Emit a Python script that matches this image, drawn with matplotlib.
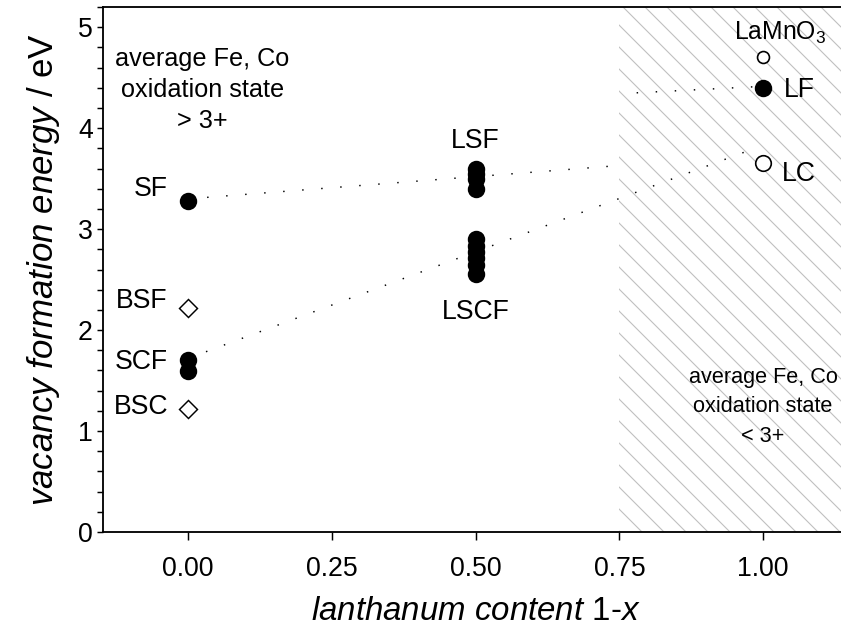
import matplotlib
matplotlib.use("Agg")
import matplotlib.pyplot as plt
from matplotlib.ticker import MultipleLocator
from matplotlib.patches import Rectangle

plt.rcParams['font.family'] = ['Liberation Sans', 'DejaVu Sans']
plt.rcParams['mathtext.fontset'] = 'custom'
plt.rcParams['mathtext.rm'] = 'Liberation Sans'
plt.rcParams['mathtext.it'] = 'Liberation Sans:italic'
plt.rcParams['hatch.linewidth'] = 0.6

# data
sf_x, sf_y = [0.0], [3.28]
scf_x, scf_y = [0.0, 0.0], [1.70, 1.59]
bsf_x, bsf_y = [0.0], [2.22]
bsc_x, bsc_y = [0.0], [1.22]
lsf_x, lsf_y = [0.5] * 4, [3.60, 3.55, 3.50, 3.40]
lscf_x, lscf_y = [0.5] * 6, [2.90, 2.83, 2.77, 2.71, 2.64, 2.56]
lf_x, lf_y = [1.0], [4.40]
lc_x, lc_y = [1.0], [3.65]
lamno_x, lamno_y = [1.0], [4.70]

# dotted guide lines
upper_x, upper_y = [0.0, 0.75], [3.30, 3.63]
lower_x, lower_y = [0.0, 0.99], [1.72, 3.81]
lfline_x, lfline_y = [0.78, 0.985], [4.35, 4.41]

hatch_start = 0.75
xticks = [0.0, 0.25, 0.5, 0.75, 1.0]
xticklabels = ['0.00', '0.25', '0.50', '0.75', '1.00']

DPI = 132
fig = plt.figure(figsize=(841 / DPI, 636 / DPI), dpi=DPI)
ax = fig.add_axes([103 / 841, 1 - 532 / 636, 1 - 103 / 841 + 0.01, (532 - 7) / 636])

ax.set_xlim(-0.148, 1.15)
ax.set_ylim(0, 5.2)

# hatched region (oxidation state < 3+)
ax.add_patch(Rectangle((hatch_start, 0), 1.0, 6, facecolor='none', edgecolor='#c0c0c0',
                       linewidth=0, hatch='\\\\', zorder=0))

dot = dict(color='black', lw=0.8, dashes=(1, 12))
ax.plot(upper_x, upper_y, **dot)
ax.plot(lower_x, lower_y, **dot)
ax.plot(lfline_x, lfline_y, **dot)

filled = dict(ls='none', marker='o', ms=8.5, mfc='black', mec='black', zorder=3)
ax.plot(sf_x, sf_y, **filled)
ax.plot(scf_x, scf_y, **filled)
ax.plot(lsf_x, lsf_y, **filled)
ax.plot(lscf_x, lscf_y, **filled)
ax.plot(lf_x, lf_y, **filled)
ax.plot(lc_x, lc_y, ls='none', marker='o', ms=8.5, mfc='white', mec='black', mew=0.9, zorder=3)
ax.plot(lamno_x, lamno_y, ls='none', marker='o', ms=6.5, mfc='white', mec='black', mew=0.9, zorder=3)
dia = dict(ls='none', marker='D', ms=6.8, mfc='white', mec='black', mew=0.8, zorder=3)
ax.plot(bsf_x, bsf_y, **dia)
ax.plot(bsc_x, bsc_y, **dia)

fs = 14.5
ax.text(-0.035, 3.40, 'SF', ha='right', va='center', fontsize=fs)
ax.text(-0.035, 2.29, 'BSF', ha='right', va='center', fontsize=fs)
ax.text(-0.035, 1.68, 'SCF', ha='right', va='center', fontsize=fs)
ax.text(-0.035, 1.24, 'BSC', ha='right', va='center', fontsize=fs)
ax.text(0.5, 3.87, 'LSF', ha='center', va='center', fontsize=fs)
ax.text(0.5, 2.18, 'LSCF', ha='center', va='center', fontsize=fs)
ax.text(1.036, 4.38, 'LF', ha='left', va='center', fontsize=fs)
ax.text(1.033, 3.55, 'LC', ha='left', va='center', fontsize=fs)
ax.text(1.03, 4.88, 'LaMnO$_3$', ha='center', va='baseline', fontsize=13.5)

ax.text(0.025, 4.38, 'average Fe, Co\noxidation state\n> 3+', ha='center', va='center',
        fontsize=13.8, linespacing=1.38)
ax.text(1.0, 1.24, 'average Fe, Co\noxidation state\n< 3+', ha='center', va='center',
        fontsize=11.8, linespacing=1.55)

ax.set_xticks(xticks)
ax.set_xticklabels(xticklabels)
ax.yaxis.set_major_locator(MultipleLocator(1))
ax.yaxis.set_minor_locator(MultipleLocator(0.2))
ax.tick_params(axis='x', direction='out', length=4.4, width=0.8, pad=8.5, labelsize=14.5)
ax.tick_params(axis='y', which='both', direction='out', length=3.5, width=0.8, pad=2, labelsize=14.5)
ax.tick_params(top=False, right=False)
for s in ['left', 'bottom', 'top']:
    ax.spines[s].set_linewidth(1.0)
ax.spines['right'].set_visible(False)

ax.set_xlabel(r'$\mathit{lanthanum\ content}$ 1-$\mathit{x}$', fontsize=18, labelpad=8)
ax.set_ylabel(r'$\mathit{vacancy\ formation\ energy}$ / eV', fontsize=19, labelpad=9)

fig.savefig('out.png', dpi=DPI)
